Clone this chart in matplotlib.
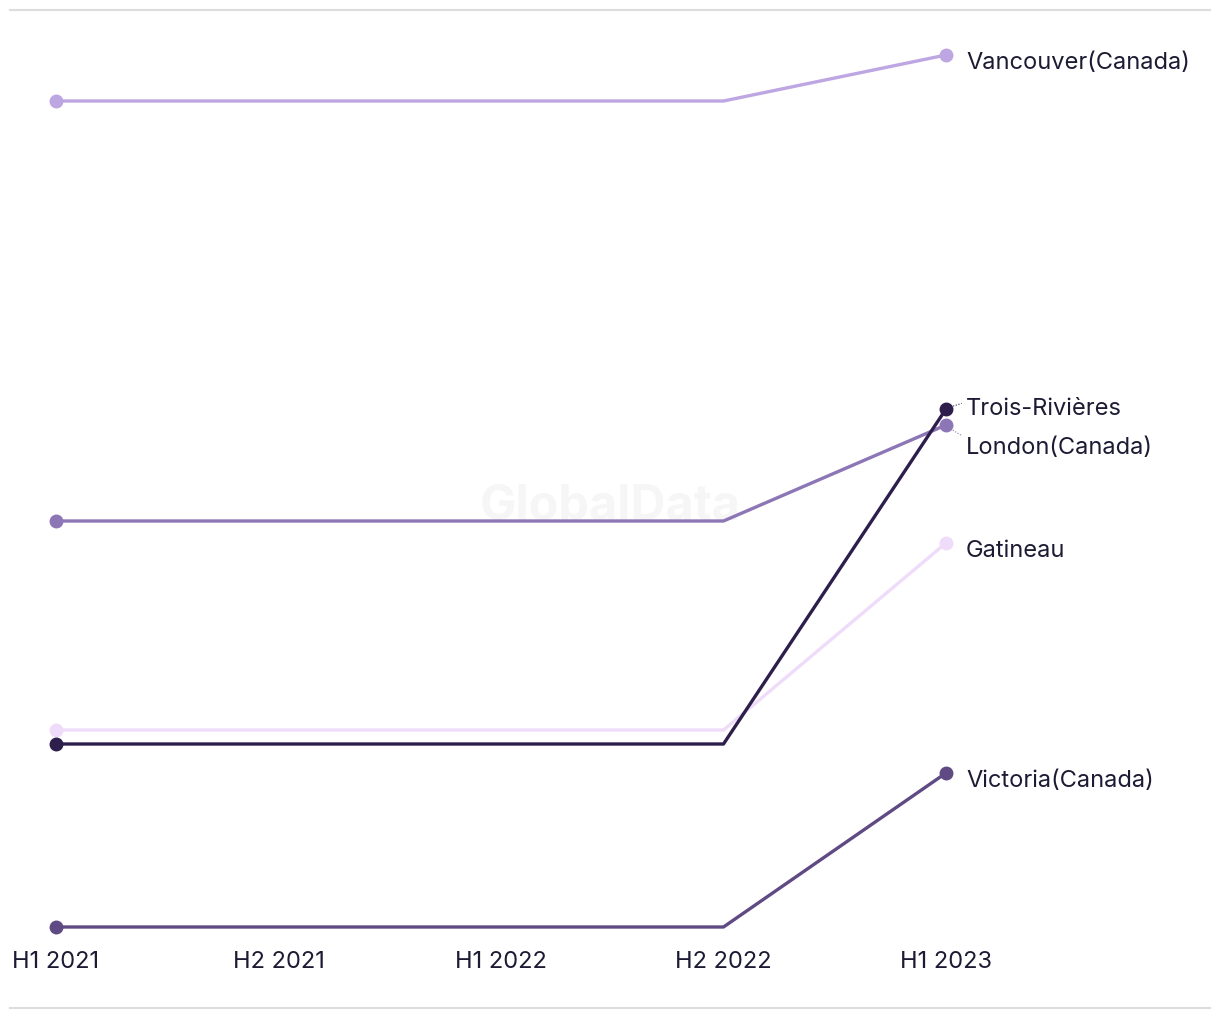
from matplotlib import pyplot as plt
import numpy as np

periods = ["H1 2021", "H2 2021", "H1 2022", "H2 2022", "H1 2023"]

cities = ["Vancouver(Canada)", "London(Canada)", "Gatineau", "Victoria(Canada)", "Trois-Rivières"]
vancouver = [89.8, 89.8, 89.8, 89.8, 94.4]
london = [47.8, 47.8, 47.8, 47.8, 57.4]
gatineau = [26.9, 26.9, 26.9, 26.9, 45.6]
victoria = [7.2, 7.2, 7.2, 7.2, 22.6]
trois = [25.5, 25.5, 25.5, 25.5, 59.0]
series = [vancouver, london, gatineau, victoria, trois]

colors = ["#bda6e1", "#8d76b5", "#eedcfa", "#5f4a84", "#2d1e4c"]
# label y-offsets (in data units) to avoid overlap at the right end
label_shift = [0, -1.5, 0, 0, 0.8]

TEXT = "#1c1b33"
plt.rcParams['font.family'] = ['Inter', 'DejaVu Sans']

W, H = 1220, 1020
fig = plt.figure(figsize=(W / 100, H / 100), dpi=100)
ax = fig.add_axes([0, (H - 940) / H, 1, 920 / H])

ax.set_xlim(-56 / 222.5, (W - 56) / 222.5)
ax.set_ylim(6.0, 98.0)

x = np.arange(len(periods))
for name, vals, c, dy in zip(cities, series, colors, label_shift):
    ax.plot(x, vals, color=c, lw=2.4, marker='o', markersize=9,
            markevery=[0, len(x) - 1], solid_capstyle='butt', zorder=3)
    ly = vals[-1] + dy - 0.7
    ax.text(x[-1] + 0.09, ly, name, fontsize=17, color=TEXT, va='center', ha='left')
    if dy != 0:
        ax.plot([x[-1] + 0.02, x[-1] + 0.07], [vals[-1] + dy * 0.25, ly + 0.7 - dy * 0.3],
                color=c, lw=0.8, linestyle=(0, (1, 1.5)))

ax.text(2.49, 49.3, "GlobalData", fontsize=35, fontweight='bold', color='#f6f6f6',
        ha='center', va='center', zorder=1)

ax.set_xticks(x)
ax.set_xticklabels(periods, fontsize=17, color=TEXT)
ax.tick_params(axis='x', length=0, pad=8)
ax.set_yticks([])
for s in ax.spines.values():
    s.set_visible(False)

fig.add_artist(plt.Line2D([10 / W, 1210 / W], [(H - 11) / H] * 2, color='#dddddd', lw=1.5))
fig.add_artist(plt.Line2D([10 / W, 1210 / W], [(H - 1009) / H] * 2, color='#dddddd', lw=1.5))

fig.savefig("out.png", dpi=100)
